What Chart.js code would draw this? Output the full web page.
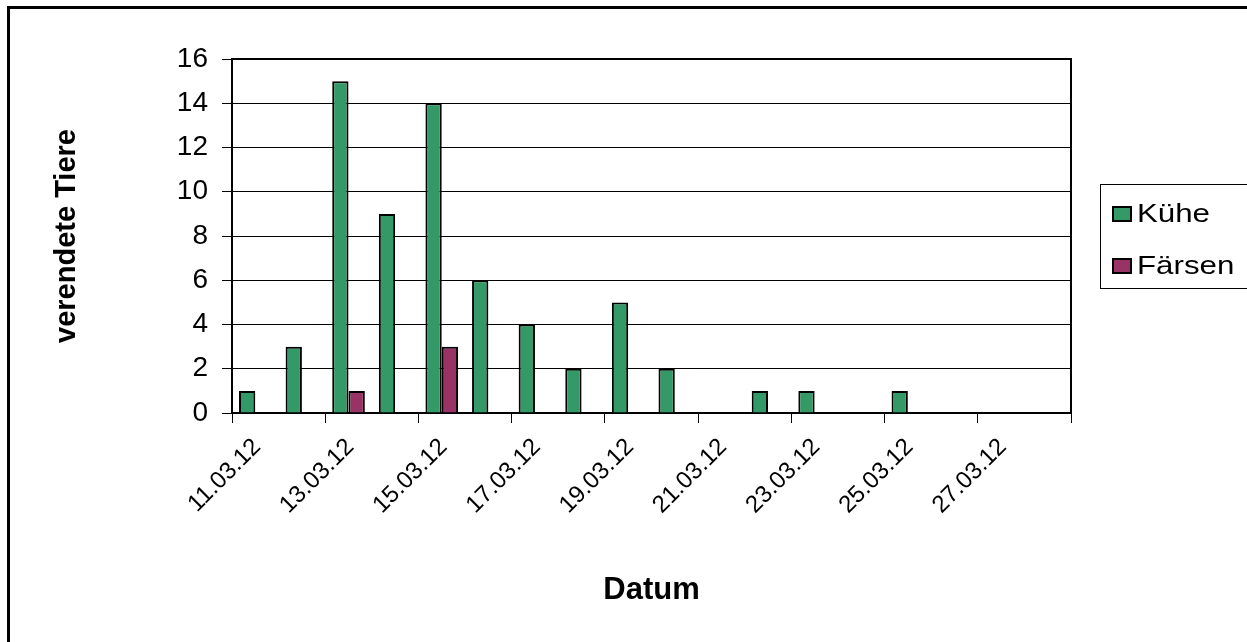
<!DOCTYPE html>
<html>
<head>
<meta charset="utf-8">
<script src="https://cdn.jsdelivr.net/npm/chart.js@4"></script>
<style>
html,body{margin:0;padding:0;background:#fff;}
#wrap{width:1247px;height:642px;}
</style>
</head>
<body>
<div id="wrap"><canvas id="c" width="1247" height="642"></canvas></div>
<script>
// ---- data ----
const days = ['11.03.12','12.03.12','13.03.12','14.03.12','15.03.12','16.03.12','17.03.12','18.03.12','19.03.12',
              '20.03.12','21.03.12','22.03.12','23.03.12','24.03.12','25.03.12','26.03.12','27.03.12','28.03.12'];
const kuehe   = [1, 3, 15, 9, 14, 6, 4, 2, 5, 2, 0, 1, 1, 0, 1, 0, 0, 0];
const faersen = [0, 0, 1, 0, 3, 0, 0, 0, 0, 0, 0, 0, 0, 0, 0, 0, 0, 0];
const seriesNames = ['Kühe', 'Färsen'];
const yTicks = [0, 2, 4, 6, 8, 10, 12, 14, 16];
const xTitle = 'Datum';
const yTitle = 'verendete Tiere';

const FONT = "'Liberation Sans', Arial, sans-serif";
const GREEN = '#339966', PURPLE = '#993366';

function toPoints(arr){ return arr.map((v,i)=>({x:i+0.5, y: v===0 ? null : v})); }

const framePlugin = {
  id:'frame',
  beforeDatasetsDraw(chart){
    const {ctx, chartArea:a} = chart;
    ctx.save();
    ctx.strokeStyle='#000'; ctx.lineWidth=2;
    ctx.strokeRect(a.left, a.top, a.right-a.left, a.bottom-a.top);
    ctx.restore();
  },
  afterDraw(chart){
    const ctx = chart.ctx;
    ctx.save();
    // outer chart border
    ctx.strokeStyle='#000'; ctx.lineWidth=3;
    ctx.strokeRect(8.5, 7.5, 1400, 800);
    // legend
    ctx.lineWidth=1;
    ctx.strokeRect(1100.5, 184.5, 300, 104);
    const ys=[214, 266];
    chart.data.datasets.forEach((ds,i)=>{
      ctx.fillStyle=ds.backgroundColor;
      ctx.fillRect(1113, ys[i]-7, 18, 14);
      ctx.strokeStyle='#000'; ctx.lineWidth=2;
      ctx.strokeRect(1113, ys[i]-7, 18, 14);
      ctx.save();
      ctx.translate(1137, ys[i]+1);
      ctx.scale(1.25, 1);
      ctx.font = "25px " + FONT;
      ctx.textBaseline='middle'; ctx.textAlign='left';
      ctx.fillStyle='#000';
      ctx.fillText(ds.label, 0, 0);
      ctx.restore();
    });
    ctx.restore();
  }
};

new Chart(document.getElementById('c'), {
  type:'bar',
  data:{
    datasets:[
      {label:seriesNames[0], data:toPoints(kuehe), backgroundColor:GREEN, borderColor:'#000', borderWidth:2},
      {label:seriesNames[1], data:toPoints(faersen), backgroundColor:PURPLE, borderColor:'#000', borderWidth:2}
    ]
  },
  options:{
    responsive:false, animation:false,
    layout:{padding:{left:40, top:59, right:176, bottom:0}},
    datasets:{bar:{categoryPercentage:0.7, barPercentage:1.0, grouped:true}},
    plugins:{legend:{display:false}, tooltip:{enabled:false}},
    scales:{
      x:{
        type:'linear', min:0, max:days.length, offset:false,
        afterFit(s){ s.height = 642-413; },
        afterBuildTicks(s){ s.ticks = []; for(let v=0; v<=days.length; v+=2) s.ticks.push({value:v}); },
        ticks:{
          autoSkip:false, minRotation:45, maxRotation:45, color:'#000', padding:10, labelOffset:25,
          font:{family:FONT, size:24},
          callback:(v)=> v < days.length ? days[v] : ''
        },
        grid:{offset:false, drawOnChartArea:false, drawTicks:true, tickLength:10, color:'#000', lineWidth:1},
        border:{display:true, color:'#000', width:2},
        title:{display:true, text:xTitle, color:'#000', font:{family:FONT, size:31, weight:'bold'}, padding:{top:0,bottom:33}}
      },
      y:{
        min:0, max:16,
        afterFit(s){ s.width = 232-40; },
        afterBuildTicks(s){ s.ticks = yTicks.map(v=>({value:v})); },
        ticks:{color:'#000', padding:14, font:{family:FONT, size:28}},
        grid:{color:'#000', lineWidth:1, tickLength:10, drawTicks:true},
        border:{display:true, color:'#000', width:2},
        title:{display:true, text:yTitle, color:'#000', font:{family:FONT, size:29, weight:'bold'}, padding:{top:10,bottom:0}}
      }
    }
  },
  plugins:[framePlugin]
});
</script>
</body>
</html>
